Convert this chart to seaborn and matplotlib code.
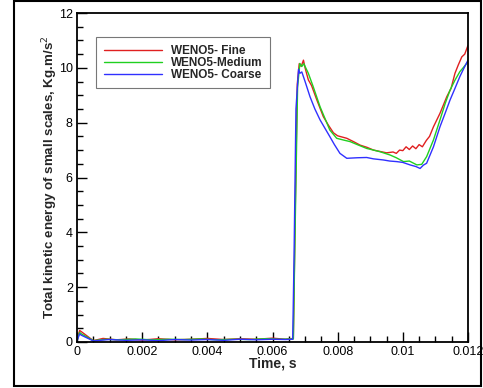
import numpy as np
import pandas as pd
import seaborn as sns
import matplotlib
matplotlib.use("Agg")
import matplotlib.pyplot as plt
from matplotlib.ticker import MultipleLocator, FuncFormatter
from matplotlib.patches import Rectangle
from matplotlib.lines import Line2D

# ---- data ----
series_names = ["WENO5- Fine", "WENO5-Medium", "WENO5- Coarse"]
series_colors = ["#e02020", "#20d020", "#3030ff"]

t_fine = [0, 0.00008, 0.00013, 0.0005, 0.0008, 0.0012, 0.0016, 0.002, 0.0025, 0.003,
          0.0035, 0.004, 0.0045, 0.005, 0.0055, 0.006, 0.0064, 0.00664, 0.0067,
          0.00676, 0.00682, 0.00688, 0.00695, 0.0070, 0.0071, 0.0072, 0.00736,
          0.00756, 0.00772, 0.00787, 0.0080, 0.00828, 0.0085, 0.00869, 0.0089,
          0.0091, 0.0093, 0.0095, 0.0097, 0.0098, 0.0099, 0.0100, 0.0101, 0.0102,
          0.0103, 0.0104, 0.0105, 0.0106, 0.01072, 0.01082, 0.01094, 0.01114,
          0.01135, 0.01148, 0.0116, 0.0117, 0.01181, 0.0119, 0.012]
y_fine = [0.05, 0.42, 0.38, 0.05, 0.13, 0.08, 0.11, 0.07, 0.12, 0.08,
          0.1, 0.13, 0.09, 0.12, 0.1, 0.14, 0.1, 0.13, 5.0,
          9.4, 10.15, 10.05, 10.28, 10.0, 9.56, 9.35, 8.83,
          8.22, 7.9, 7.63, 7.52, 7.43, 7.3, 7.18, 7.1,
          7.0, 6.95, 6.9, 6.93, 6.88, 7.0, 6.98, 7.12, 7.02,
          7.15, 7.05, 7.2, 7.12, 7.35, 7.5, 7.85, 8.34,
          8.95, 9.25, 9.8, 10.1, 10.4, 10.5, 10.82]

t_medium = [0, 0.00008, 0.00013, 0.0005, 0.0009, 0.0013, 0.0018, 0.0023, 0.0028,
            0.0033, 0.0038, 0.0043, 0.0048, 0.0053, 0.0058, 0.0062, 0.00664,
            0.0067, 0.00677, 0.00684, 0.0069, 0.00696, 0.0071, 0.00725, 0.00746,
            0.00776, 0.00797, 0.0082, 0.00838, 0.0086, 0.00889, 0.0091, 0.0093,
            0.00961, 0.0098, 0.01002, 0.0102, 0.01043, 0.01058, 0.01073, 0.01094,
            0.01114, 0.0113, 0.01145, 0.0116, 0.01175, 0.01185, 0.0120]
y_medium = [0.05, 0.35, 0.3, 0.05, 0.1, 0.08, 0.11, 0.08, 0.1,
            0.09, 0.11, 0.08, 0.1, 0.09, 0.12, 0.1, 0.11,
            4.5, 9.3, 10.16, 10.05, 10.15, 9.8, 9.31, 8.58,
            7.73, 7.43, 7.36, 7.31, 7.2, 7.06, 7.0, 6.94,
            6.82, 6.72, 6.58, 6.6, 6.46, 6.48, 6.76, 7.37,
            8.1, 8.7, 9.19, 9.55, 9.86, 10.0, 10.22]

t_coarse = [0, 0.00008, 0.00013, 0.0005, 0.001, 0.0015, 0.002, 0.0025, 0.003,
            0.0035, 0.004, 0.0045, 0.005, 0.0055, 0.006, 0.0064, 0.00662,
            0.00666, 0.00672, 0.0068, 0.00684, 0.0069, 0.007, 0.00715, 0.0073,
            0.00746, 0.00776, 0.0079, 0.00807, 0.00828, 0.0086, 0.00889, 0.0091,
            0.0094, 0.0096, 0.00981, 0.0100, 0.01022, 0.0104, 0.01053, 0.01063,
            0.01073, 0.01094, 0.01114, 0.0113, 0.01145, 0.0116, 0.01175, 0.01188, 0.0120]
y_coarse = [0.03, 0.3, 0.25, 0.04, 0.09, 0.06, 0.08, 0.05, 0.09,
            0.07, 0.09, 0.06, 0.1, 0.08, 0.1, 0.09, 0.1,
            3.0, 8.5, 9.95, 9.8, 9.85, 9.5, 8.95, 8.5,
            8.1, 7.49, 7.2, 6.88, 6.7, 6.72, 6.73, 6.68,
            6.64, 6.6, 6.58, 6.55, 6.46, 6.4, 6.33, 6.45,
            6.52, 7.12, 7.85, 8.35, 8.83, 9.25, 9.68, 10.0, 10.28]

# ---- build long table ----
frames = []
for name, t, y in [(series_names[0], t_fine, y_fine),
                   (series_names[1], t_medium, y_medium),
                   (series_names[2], t_coarse, y_coarse)]:
    frames.append(pd.DataFrame({"t": t, "y": y, "series": name}))
df = pd.concat(frames, ignore_index=True)

sns.set_style("white")
plt.rcParams["font.family"] = ["Liberation Sans", "DejaVu Sans"]

fig = plt.figure(figsize=(4.83, 3.88), dpi=100)
ax = fig.add_axes([77 / 483, 1 - 342 / 388, (468 - 77) / 483, (342 - 13) / 388])

sns.lineplot(data=df, x="t", y="y", hue="series", hue_order=series_names,
             palette=dict(zip(series_names, series_colors)), sort=False,
             estimator=None, linewidth=1.0, ax=ax, legend=False)

ax.set_xlim(0, 0.012)
ax.set_ylim(0, 12)
ax.xaxis.set_major_locator(MultipleLocator(0.002))
ax.xaxis.set_minor_locator(MultipleLocator(0.0005))
ax.yaxis.set_major_locator(MultipleLocator(2))
ax.yaxis.set_minor_locator(MultipleLocator(0.5))
ax.xaxis.set_major_formatter(FuncFormatter(lambda v, p: "%g" % round(v, 6)))
ax.yaxis.set_major_formatter(FuncFormatter(lambda v, p: "%g" % v))
ax.tick_params(which="both", direction="in", bottom=True, left=True,
               top=False, right=False, labelsize=9, colors="black", pad=3)
ax.tick_params(which="major", length=7, width=1)
ax.tick_params(which="minor", length=4, width=1)
for s in ax.spines.values():
    s.set_color("black")
    s.set_linewidth(1.3)

ax.set_xlabel("Time, s", fontsize=10, fontweight="bold", labelpad=-1)
ax.set_ylabel("Total kinetic energy of small scales, Kg.m/s$^2$", fontsize=9.6,
              fontweight="bold", labelpad=-1)

handles = [Line2D([0], [0], color=c, lw=1.0) for c in series_colors]
leg = ax.legend(handles, series_names, loc="upper left",
                bbox_to_anchor=((96 - 77) / 391, (342 - 37) / 329),
                borderaxespad=0, frameon=True, fancybox=False, handlelength=4.9,
                labelspacing=0.0, borderpad=0.65, handletextpad=0.8,
                prop={"weight": "bold", "size": 8.5})
leg.get_frame().set_edgecolor("#555555")
leg.get_frame().set_linewidth(0.8)

fig.patches.append(Rectangle((14 / 483, 1 - 386 / 388), (481 - 14) / 483,
                             (386 - 1) / 388, transform=fig.transFigure,
                             fill=False, edgecolor="black", linewidth=1.5))

fig.savefig("out.png", dpi=100)
